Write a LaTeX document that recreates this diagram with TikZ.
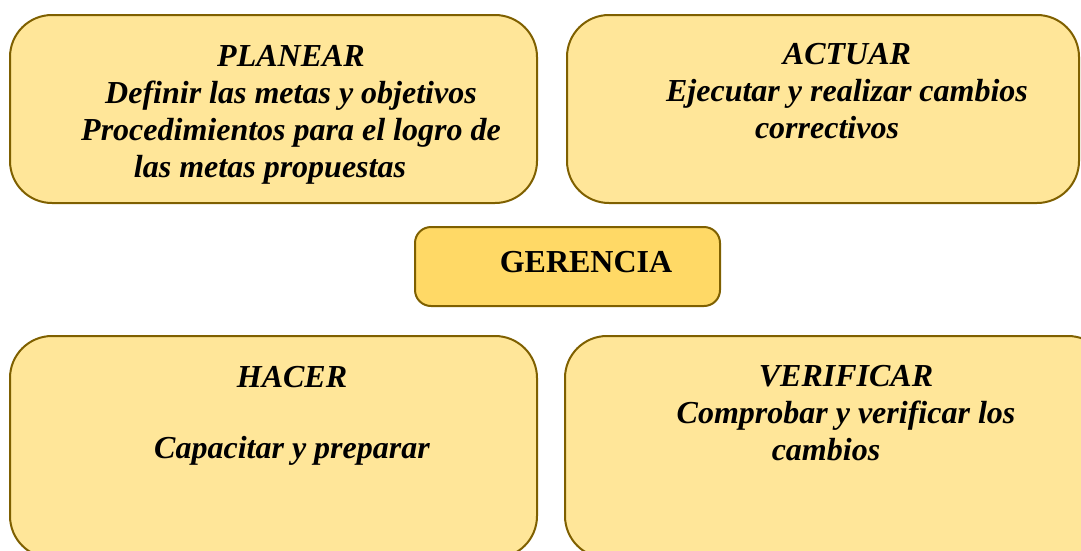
\documentclass[tikz,border=0pt]{standalone}
\usepackage{fontspec}
\setmainfont{Liberation Serif}
\usetikzlibrary{positioning}

\definecolor{oroclaro}{HTML}{FFE699}
\definecolor{oromedio}{HTML}{FFD966}
\definecolor{oroborde}{HTML}{7F6000}

\tikzset{
  caja/.style={draw=oroborde,fill=oroclaro,line width=2pt,rectangle,rounded corners=42pt,inner sep=0pt},
  cajacentro/.style={caja,fill=oromedio,rounded corners=16pt},
  texto/.style={align=center,anchor=base,inner sep=0pt,font=\fontsize{32}{37}\selectfont\bfseries\itshape}
}

\begin{document}
\begin{tikzpicture}[x=1pt,y=-1pt]
\useasboundingbox (0,0) rectangle (1081,550);

\node[caja,minimum width=527pt,minimum height=188pt] (planear) at (273.5,109) {};
\node[caja,minimum width=512pt,minimum height=188pt] (actuar) at (823,109) {};
\node[cajacentro,minimum width=305pt,minimum height=79pt] (gerencia) at (567.5,266.5) {};
\node[caja,minimum width=527pt,minimum height=222pt] (hacer) at (273.5,447) {};
\node[caja,minimum width=545pt,minimum height=222pt] (verificar) at (837.5,447) {};

% el ancla base cae en la ultima linea
\node[texto] (planear-txt) at (291,177) {PLANEAR\\Definir las metas y objetivos\\Procedimientos para el logro de\\las metas propuestas\hspace*{42pt}};
\node[texto] (actuar-txt) at (847,138) {ACTUAR\\Ejecutar y realizar cambios\\correctivos\hspace*{40pt}};
\node[texto,font=\fontsize{32}{37}\selectfont\bfseries] (gerencia-txt) at (586,272) {GERENCIA};
\node[texto] (hacer-txt) at (292,458) {HACER\\[34pt]Capacitar y preparar};
\node[texto] (verificar-txt) at (846,460) {VERIFICAR\\Comprobar y verificar los\\cambios\hspace*{40pt}};

\end{tikzpicture}
\end{document}
